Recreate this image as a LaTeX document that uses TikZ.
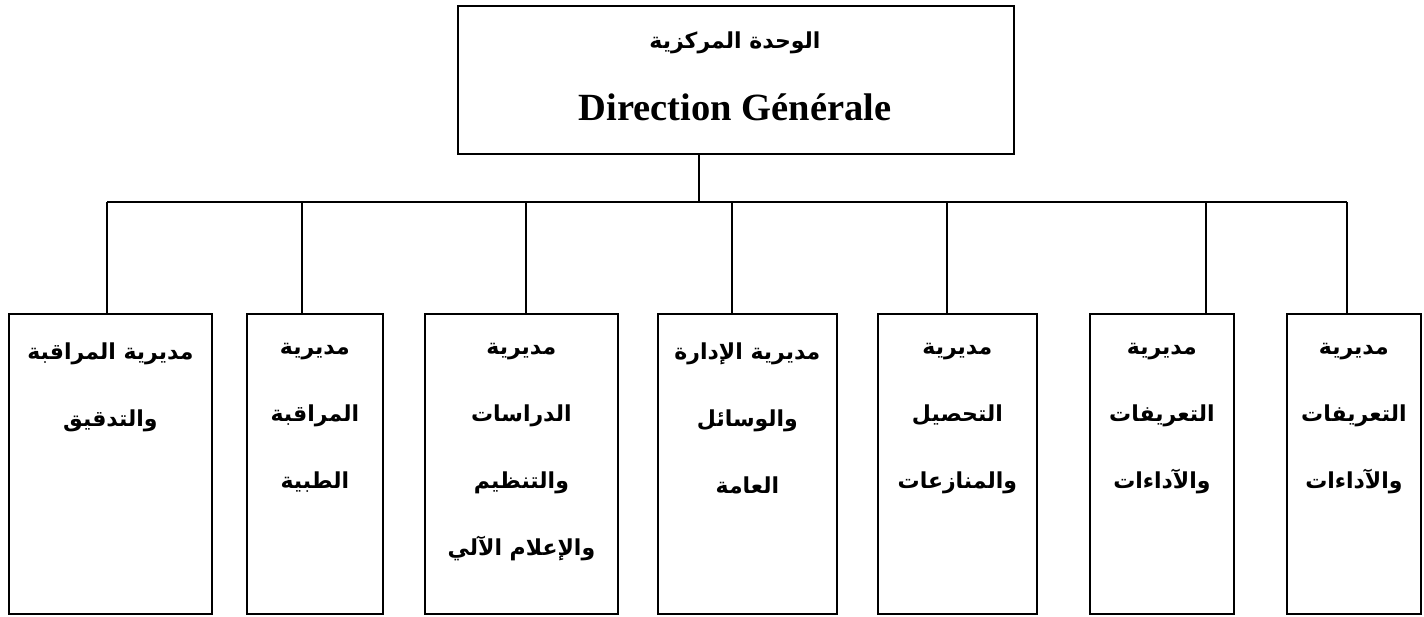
\documentclass[tikz,border=0pt]{standalone}
\usepackage{fontspec}
\setmainfont{Liberation Serif}
\newfontfamily\arabicfont[Script=Arabic]{DejaVu Sans}
\TeXXeTstate=1
\begin{document}
\begin{tikzpicture}[x=1pt,y=-1pt,line width=1.8pt,
  box/.style={draw,inner sep=0pt,anchor=north west},
  lbl/.style={align=center,anchor=north,inner sep=0pt,font=\arabicfont\bfseries\fontsize{22}{67}\selectfont},
  ttl/.style={inner sep=0pt,font=\bfseries\fontsize{38.5}{42}\selectfont}]
\useasboundingbox (0,0) rectangle (1424,616);
% top box
\node[box,minimum width=556pt,minimum height=148pt] (top) at (457,5) {};
\node[lbl,anchor=center] (t1) at (735,43) {\beginR الوحدة المركزية\endR};
\node[ttl] (t2) at (735,107) {Direction Générale};
% bottom boxes
\node[box,minimum width=203pt,minimum height=300pt] (b1) at (8,313) {};
\node[box,minimum width=136pt,minimum height=300pt] (b2) at (246,313) {};
\node[box,minimum width=193pt,minimum height=300pt] (b3) at (424,313) {};
\node[box,minimum width=179pt,minimum height=300pt] (b4) at (657,313) {};
\node[box,minimum width=159pt,minimum height=300pt] (b5) at (877,313) {};
\node[box,minimum width=144pt,minimum height=300pt] (b6) at (1089,313) {};
\node[box,minimum width=134pt,minimum height=300pt] (b7) at (1286,313) {};
% labels
\node[lbl] (l1) at ([yshift=-29pt]b1.north) {\beginR مديرية المراقبة\endR\\\beginR والتدقيق\endR};
\node[lbl] (l2) at ([yshift=-29pt]b2.north) {\beginR مديرية\endR\\\beginR المراقبة\endR\\\beginR الطبية\endR};
\node[lbl] (l3) at ([yshift=-29pt]b3.north) {\beginR مديرية\endR\\\beginR الدراسات\endR\\\beginR والتنظيم\endR\\\beginR والإعلام الآلي\endR};
\node[lbl] (l4) at ([yshift=-29pt]b4.north) {\beginR مديرية الإدارة\endR\\\beginR والوسائل\endR\\\beginR العامة\endR};
\node[lbl] (l5) at ([yshift=-29pt]b5.north) {\beginR مديرية\endR\\\beginR التحصيل\endR\\\beginR والمنازعات\endR};
\node[lbl] (l6) at ([yshift=-29pt]b6.north) {\beginR مديرية\endR\\\beginR التعريفات\endR\\\beginR والآداءات\endR};
\node[lbl] (l7) at ([yshift=-29pt]b7.north) {\beginR مديرية\endR\\\beginR التعريفات\endR\\\beginR والآداءات\endR};
% connectors
\coordinate (hub) at (699,202);
\coordinate (d1) at (107,202);
\coordinate (d2) at (302,202);
\coordinate (d3) at (526,202);
\coordinate (d4) at (732,202);
\coordinate (d5) at (947,202);
\coordinate (d6) at (1206,202);
\coordinate (d7) at (1347,202);
\draw (top.south -| hub) -- (hub);
\draw (d1) -- (d7);
\foreach \i in {1,...,7} \draw (d\i) -- (d\i |- b\i.north);
\end{tikzpicture}
\end{document}
